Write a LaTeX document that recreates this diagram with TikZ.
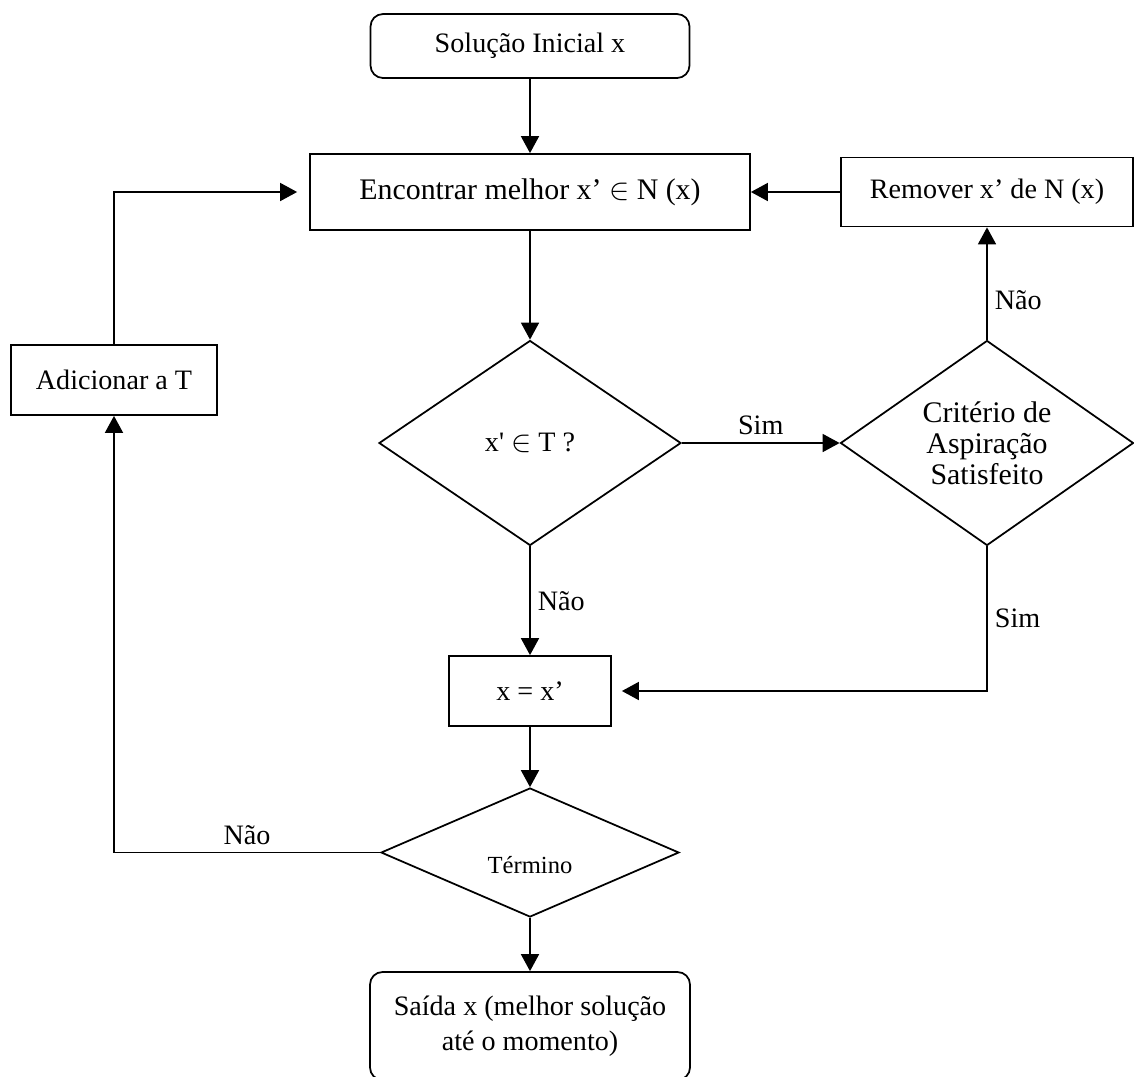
\documentclass[tikz,border=0pt]{standalone}
\usepackage{fontspec}
\setmainfont{Liberation Serif}
\usetikzlibrary{positioning,arrows.meta,shapes.geometric}
\tikzset{
  flowarrow/.style={-{Triangle[length=3.4mm,width=3.6mm]}, line width=1pt},
  procbox/.style={draw, line width=1pt, minimum height=1.4cm, align=center, inner sep=2pt},
  termbox/.style={draw, rounded corners=0.25cm, line width=1pt, align=center},
  decision/.style={draw, diamond, line width=1pt, align=center, inner sep=0pt, aspect=1.5},
  edgelabel/.style={inner sep=4pt}
}

\begin{document}
\begin{tikzpicture}[every node/.style={font=\fontsize{16}{20}\selectfont}]
  \useasboundingbox (0,0) rectangle (22.68,-21.52);
  \node[termbox, minimum width=6.38cm, minimum height=1.28cm] (start) at (10.6,-0.92) {Solução Inicial x};
  \node[procbox, minimum width=8.8cm, minimum height=1.52cm, font=\fontsize{17}{20}\selectfont] (find) at (10.6,-3.84) {Encontrar melhor x’ $\in$ N (x)};
  \node[procbox, minimum width=5.84cm, minimum height=1.38cm] (remove) at (19.74,-3.84) {Remover x’ de N (x)};
  \node[procbox, minimum width=4.12cm] (addT) at (2.28,-7.6) {Adicionar a T};
  \node[decision, minimum width=6.04cm, minimum height=4.1cm] (inT) at (10.6,-8.86) {x\textquotesingle{} $\in$ T ?};
  \node[decision, minimum width=5.86cm, minimum height=4.1cm, font=\fontsize{17}{17.5}\selectfont] (aspir) at (19.74,-8.86) {Critério de\\Aspiração\\Satisfeito};
  \node[procbox, minimum width=3.24cm] (assign) at (10.6,-13.82) {x = x’};
  \node[decision, minimum width=5.96cm, minimum height=2.58cm, font=\fontsize{14}{17}\selectfont] (stopQ) at (10.6,-17.05) {\rule{0pt}{0.85cm}Término};
  \node[termbox, minimum width=6.4cm, minimum height=2.16cm] (out) at (10.6,-20.52) {Saída x (melhor solução\\até o momento)};

  \draw[flowarrow] (start) -- (find);
  \draw[flowarrow] (find) -- (inT);
  \draw[flowarrow] (inT) -- node[edgelabel, above] {Sim} (aspir);
  \draw[flowarrow] (aspir) -- node[edgelabel, right, pos=0.35] {Não} (remove);
  \draw[flowarrow] (remove) -- (find);
  \draw[flowarrow] (inT) -- node[edgelabel, right] {Não} (assign);
  \draw[flowarrow, shorten >=0.2cm] (aspir.south) |- node[edgelabel, right, pos=0.25] {Sim} (assign.east);
  \draw[flowarrow] (assign) -- (stopQ);
  \draw[flowarrow] (stopQ) -- (out);
  \draw[flowarrow] (stopQ.west) -| node[edgelabel, above, pos=0.25] {Não} (addT.south);
  \draw[flowarrow, shorten >=0.24cm] (addT.north) |- (find.west);
\end{tikzpicture}
\end{document}
